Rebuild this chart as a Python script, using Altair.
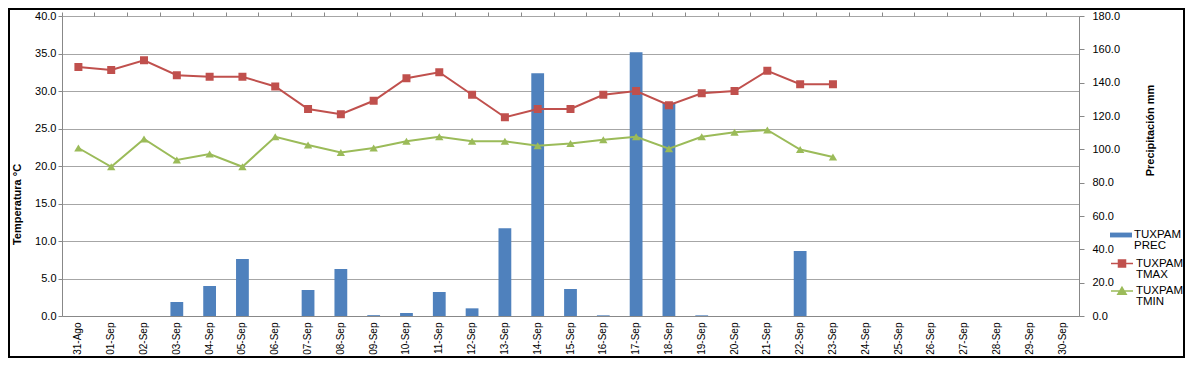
import altair as alt
import pandas as pd

fechas = ["31-Ago", "01-Sep", "02-Sep", "03-Sep", "04-Sep", "05-Sep", "06-Sep", "07-Sep",
          "08-Sep", "09-Sep", "10-Sep", "11-Sep", "12-Sep", "13-Sep", "14-Sep", "15-Sep",
          "16-Sep", "17-Sep", "18-Sep", "19-Sep", "20-Sep", "21-Sep", "22-Sep", "23-Sep",
          "24-Sep", "25-Sep", "26-Sep", "27-Sep", "28-Sep", "29-Sep", "30-Sep"]

prec = [0.0, 0.0, 0.0, 8.4, 18.0, 34.2, 0.0, 15.6, 28.2, 0.5, 1.8, 14.4, 4.6, 52.6, 145.7,
        16.2, 0.4, 158.3, 128.1, 0.4, 0.0, 0.0, 39.0, 0.0,
        None, None, None, None, None, None, None]

tmax = [33.2, 32.8, 34.1, 32.1, 31.9, 31.9, 30.6, 27.6, 26.9, 28.7, 31.7, 32.5, 29.5, 26.5,
        27.6, 27.6, 29.5, 30.0, 28.1, 29.7, 30.0, 32.7, 30.9, 30.9,
        None, None, None, None, None, None, None]

tmin = [22.4, 19.9, 23.6, 20.8, 21.6, 19.9, 23.9, 22.8, 21.8, 22.4, 23.3, 23.9, 23.3, 23.3,
        22.7, 23.0, 23.5, 23.9, 22.3, 23.9, 24.5, 24.8, 22.2, 21.2,
        None, None, None, None, None, None, None]

series = ["TUXPAM PREC", "TUXPAM TMAX", "TUXPAM TMIN"]
colores = ["#4F81BD", "#C0504D", "#9BBB59"]
ticks_temp = [0, 5, 10, 15, 20, 25, 30, 35, 40]
ticks_prec = [0, 20, 40, 60, 80, 100, 120, 140, 160, 180]

df = pd.DataFrame({
    "fecha": fechas,
    "prec": prec,
    "tmax": tmax,
    "tmin": tmin,
    "s_prec": series[0],
    "s_tmax": series[1],
    "s_tmin": series[2],
})

FONT = "Liberation Sans"
GRIDC = "#a6a6a6"
AXC = "#888888"

xscale = alt.Scale(paddingInner=0, paddingOuter=0)

x_labels = alt.X("fecha:N", sort=fechas, title=None, scale=xscale,
                 axis=alt.Axis(labelAngle=270, labelAlign="right", labelBaseline="middle",
                               labelFontSize=10, labelPadding=6, labelColor="#000",
                               ticks=False, domain=True, domainColor=AXC, grid=False,
                               labelOverlap=False))
x_ticks = alt.X("fecha:N", sort=fechas, title=None, scale=xscale,
                axis=alt.Axis(labels=False, ticks=True, tickSize=4, tickColor=AXC,
                              bandPosition=0, domain=False, grid=False))

temp_axis = alt.Axis(orient="left", values=ticks_temp, format=".1f", grid=True,
                     gridColor=GRIDC, gridWidth=1, domainColor=AXC, tickColor=AXC,
                     tickSize=4, labelPadding=2, labelFontSize=11, labelColor="#000",
                     titleFontSize=11, titleFontWeight="bold", titleColor="#000",
                     titleX=-45, titleY=188, titleAngle=270, titleAlign="center",
                     titleBaseline="middle")
temp_scale = alt.Scale(domain=[0, 40], nice=False)

prec_axis = alt.Axis(orient="right", values=ticks_prec, format=".1f", grid=False,
                     domainColor=AXC, tickColor=AXC, tickSize=5, labelPadding=8,
                     labelFontSize=11, labelColor="#000",
                     titleFontSize=11, titleFontWeight="bold", titleColor="#000",
                     titleX=71, titleY=114, titleAngle=270, titleAlign="center",
                     titleBaseline="middle")


def legend(i, path, x, y, sw):
    return alt.Legend(title=None, orient="none", legendX=x, legendY=y, padding=0,
                      symbolType=path, symbolSize=484, symbolStrokeColor=colores[i],
                      symbolStrokeWidth=sw, symbolOpacity=1,
                      labelExpr="split(datum.label, ' ')", labelFontSize=11.5,
                      labelColor="#000", labelOffset=2)


PATH_PREC = "M-1,-0.22H1V0.22H-1Z"
PATH_TMAX = "M-1,0H1M-0.32,-0.32H0.32V0.32H-0.32Z"
PATH_TMIN = "M-1,0H1M0,-0.34L0.38,0.3H-0.38Z"

base = alt.Chart(df)

bars = base.mark_bar(width=alt.RelativeBandSize(0.39)).encode(
    x=x_labels,
    y=alt.Y("prec:Q", scale=alt.Scale(domain=[0, 180], nice=False), title="Precipitación mm",
            axis=prec_axis),
    color=alt.Color("s_prec:N", scale=alt.Scale(domain=[series[0]], range=[colores[0]]),
                    legend=legend(0, PATH_PREC, 1048, 208, 0)),
)

line_max = base.mark_line(color=colores[1], strokeWidth=2).encode(
    x=x_ticks,
    y=alt.Y("tmax:Q", scale=temp_scale, title="Temperatura °C", axis=temp_axis),
)
pts_max = base.mark_point(shape="square", filled=True, size=64, opacity=1).encode(
    x=x_ticks,
    y=alt.Y("tmax:Q", scale=temp_scale, title="Temperatura °C", axis=temp_axis),
    color=alt.Color("s_tmax:N", scale=alt.Scale(domain=[series[1]], range=[colores[1]]),
                    legend=legend(1, PATH_TMAX, 1048, 235.5, 1.5)),
)
line_min = base.mark_line(color=colores[2], strokeWidth=2).encode(
    x=x_ticks,
    y=alt.Y("tmin:Q", scale=temp_scale, title="Temperatura °C", axis=temp_axis),
)
pts_min = base.mark_point(shape="triangle-up", filled=True, size=70, opacity=1).encode(
    x=x_ticks,
    y=alt.Y("tmin:Q", scale=temp_scale, title="Temperatura °C", axis=temp_axis),
    color=alt.Color("s_tmin:N", scale=alt.Scale(domain=[series[2]], range=[colores[2]]),
                    legend=legend(2, PATH_TMIN, 1048, 263, 1.5)),
)

temps = alt.layer(line_max, line_min, pts_max, pts_min).resolve_scale(color="independent")

# decorative black frame around the whole chart (outside the plot area)
frame = alt.Chart(alt.Data(values=[{}])).mark_rect(
    fill=None, stroke="black", strokeWidth=2
).encode(
    x=alt.value(-53), x2=alt.value(1122),
    y=alt.value(-7), y2=alt.value(341),
)

chart = alt.layer(bars, temps, frame).resolve_scale(
    y="independent", color="independent"
).resolve_axis(x="independent").properties(
    width=1017, height=300,
    padding={"left": 54, "top": 8, "right": 106, "bottom": 43},
    autosize=alt.AutoSizeParams(type="none"),
    background="white",
).configure(
    font=FONT, style={"guide-label": {"lineHeight": 11}}
).configure_view(stroke=None)

chart.save("out.html", embed_options={"renderer": "svg", "actions": False})
